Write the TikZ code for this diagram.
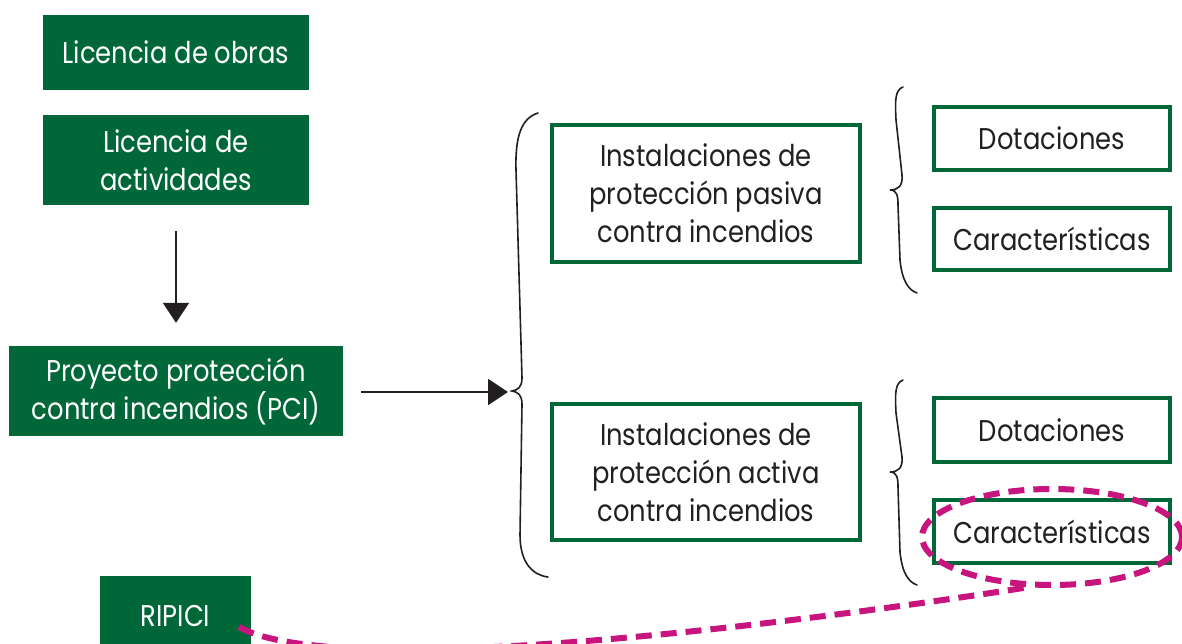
\documentclass[tikz,border=0pt]{standalone}
\usepackage{fontspec}
\setmainfont{Poppins}[FakeStretch=0.86]
\usetikzlibrary{arrows.meta,shapes.geometric}
\definecolor{pcigreen}{RGB}{0,104,56}
\definecolor{ripmagenta}{RGB}{200,20,125}
\definecolor{inkblack}{RGB}{35,31,32}

\begin{document}
\begin{tikzpicture}[x=1pt,y=-1pt,
        font=\fontsize{30}{38}\selectfont,
        filledbox/.style={fill=pcigreen,text=white,align=center,inner sep=0pt},
        framebox/.style={draw=pcigreen,line width=4.5pt,fill=white,text=inkblack,align=center,inner sep=0pt},
        flowarrow/.style={draw=inkblack,line width=2pt,-{Triangle[length=20pt,width=26pt]}},
        curly/.style={draw=inkblack,line width=1.6pt,line cap=round},
        magdash/.style={draw=ripmagenta,line width=6pt,dash pattern=on 16pt off 9pt}]
        \useasboundingbox (0,0) rectangle (1182,644);

        % left column
        \node[filledbox,minimum width=266pt,minimum height=75pt] (obras) at (176,52.5) {Licencia de obras};
        \node[filledbox,minimum width=266pt,minimum height=90pt] (actividades) at (176,160) {Licencia de\\actividades};
        \node[filledbox,minimum width=334pt,minimum height=90pt] (pci) at (176,391) {Proyecto protección\\contra incendios (PCI)};
        \node[filledbox,minimum width=151pt,minimum height=80pt] (ripici) at (175.5,616) {RIPICI};

        % installations
        \node[framebox,minimum width=308pt,minimum height=137pt] (pasiva) at (706,193.5) {Instalaciones de\\protección pasiva\\contra incendios};
        \node[framebox,minimum width=308pt,minimum height=136pt] (activa) at (706,472) {Instalaciones de\\protección activa\\contra incendios};

        \node[framebox,minimum width=236pt,minimum height=63pt] (dotpasiva) at (1052,138.5) {Dotaciones};
        \node[framebox,minimum width=236pt,minimum height=62pt] (carpasiva) at (1052,239) {Características};
        \node[framebox,minimum width=236pt,minimum height=64pt] (dotactiva) at (1052,430) {Dotaciones};
        \node[framebox,minimum width=236pt,minimum height=63pt] (caractiva) at (1052,531.5) {Características};

        \coordinate (bracetip) at (508,392);
        \draw[flowarrow,shorten <=26pt,shorten >=23pt] (actividades) -- (pci);
        \draw[flowarrow,shorten <=18pt] (pci.east |- bracetip) -- (bracetip);

        % braces
        \draw[curly] (538,113) .. controls (522,118) and (515,135) .. (516,170) -- (522,378)
                .. controls (522,387) and (518,390) .. (512,391) .. controls (518,392) and (522,395) .. (522,404)
                -- (520,535) .. controls (520,562) and (532,575) .. (548,577);
        \draw[curly] (903,87) .. controls (895,90) and (895,100) .. (896,120) -- (902,175)
                .. controls (903,186) and (898,190) .. (890,190) .. controls (897,190) and (898,196) .. (898,205)
                -- (900,260) .. controls (902,280) and (908,290) .. (917,293);
        \draw[curly] (903,380) .. controls (895,383) and (895,393) .. (896,413) -- (902,457)
                .. controls (903,468) and (898,472) .. (890,472) .. controls (897,472) and (898,478) .. (898,487)
                -- (900,552) .. controls (902,572) and (908,582) .. (917,585);

        % RIPICI link
        \node[magdash,ellipse,minimum width=260pt,minimum height=96pt] (ring) at (1052,537) {};
        \coordinate (ripstart) at (239,627);
        \draw[magdash] (ripstart) .. controls (330,678) and (740,632) .. (ring.245);
\end{tikzpicture}
\end{document}
